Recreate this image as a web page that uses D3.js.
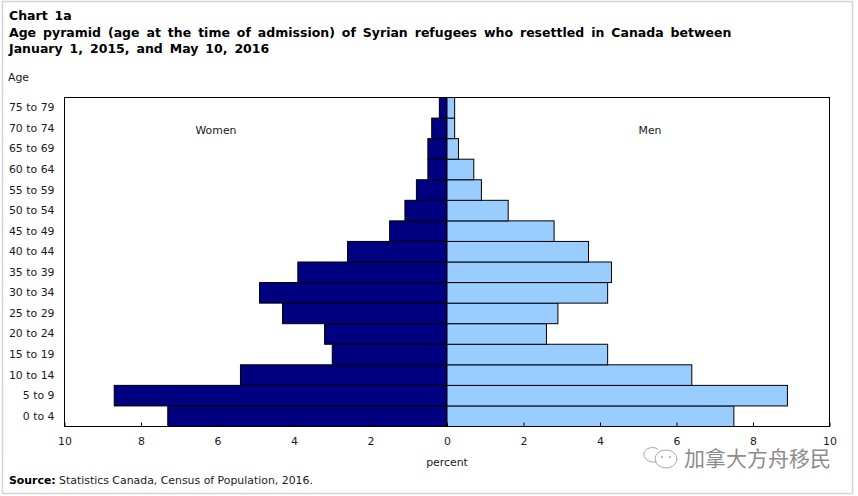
<!DOCTYPE html>
<html>
<head>
<meta charset="utf-8">
<script src="https://cdn.jsdelivr.net/npm/d3@7"></script>
<style>
  html, body { margin: 0; padding: 0; background: #fff; }
  svg { display: block; }
  text { font-family: "DejaVu Sans", Verdana, sans-serif; font-size: 10.9px; fill: #1a1a1a; }
  .title { font-size: 12.5px; font-weight: bold; fill: #000; word-spacing: 2.6px; }
  .axis path { display: none; }
  .axis line { stroke: #000; }
</style>
</head>
<body>
<div id="chart"></div>
<script>
  var ages = ['0 to 4', '5 to 9', '10 to 14', '15 to 19', '20 to 24', '25 to 29', '30 to 34', '35 to 39',
    '40 to 44', '45 to 49', '50 to 54', '55 to 59', '60 to 64', '65 to 69', '70 to 74', '75 to 79'];
  var women = [7.3, 8.7, 5.4, 3.0, 3.2, 4.3, 4.9, 3.9, 2.6, 1.5, 1.1, 0.8, 0.5, 0.5, 0.4, 0.2];
  var men = [7.5, 8.9, 6.4, 4.2, 2.6, 2.9, 4.2, 4.3, 3.7, 2.8, 1.6, 0.9, 0.7, 0.3, 0.2, 0.2];
  var xTicks = [-10, -8, -6, -4, -2, 0, 2, 4, 6, 8, 10];
  var titleLines = ['Chart 1a',
    'Age pyramid (age at the time of admission) of Syrian refugees who resettled in Canada between',
    'January 1, 2015, and May 10, 2016'];

  var width = 858, height = 496;
  var plotLeft = 64.5, plotRight = 829.5, plotTop = 97.5, plotBottom = 426.5;

  var svg = d3.select('#chart').append('svg')
    .attr('width', width)
    .attr('height', height);

  // grey picture frame
  svg.append('rect')
    .attr('x', 2.5).attr('y', 1.5)
    .attr('width', 850).attr('height', 492)
    .attr('fill', '#fff')
    .attr('stroke', '#d4d4d4')
    .attr('stroke-width', 1.5);

  var x = d3.scaleLinear().domain([-10, 10]).range([plotLeft, plotRight]);
  var y = d3.scaleBand().domain(ages).range([plotBottom, plotTop]);

  svg.selectAll('.title')
    .data(titleLines)
    .enter()
    .append('text')
    .classed('title', true)
    .attr('x', 9)
    .attr('y', function (d, i) { return 20 + i * 16.5; })
    .text(function (d) { return d; });

  function drawBars( values, sign, color ) {
    svg.append('g').selectAll('rect')
      .data(values)
      .enter()
      .append('rect')
      .attr('x', function (d) { return sign < 0 ? x(-d) : x(0); })
      .attr('y', function (d, i) { return y(ages[i]); })
      .attr('width', function (d) { return Math.abs(x(d) - x(0)); })
      .attr('height', y.bandwidth())
      .attr('fill', color)
      .attr('stroke', '#000')
      .attr('stroke-width', 1);
  }

  drawBars(women, -1, '#000080');
  drawBars(men, 1, '#99ccff');

  // plot border on top of the bars
  svg.append('rect')
    .attr('x', plotLeft).attr('y', plotTop)
    .attr('width', plotRight - plotLeft).attr('height', plotBottom - plotTop)
    .attr('fill', 'none')
    .attr('stroke', '#000')
    .attr('stroke-width', 1);

  var xAxis = svg.append('g')
    .classed('axis', true)
    .attr('transform', 'translate(0,' + plotBottom + ')')
    .call(d3.axisBottom(x)
      .tickValues(xTicks)
      .tickSizeInner(-4)
      .tickSizeOuter(0)
      .tickPadding(11)
      .tickFormat(function (d) { return Math.abs(d); }));
  xAxis.selectAll('text').attr('font-size', null).attr('font-family', null);

  var yAxis = svg.append('g')
    .classed('axis', true)
    .attr('transform', 'translate(' + plotLeft + ',0)')
    .call(d3.axisLeft(y).tickSize(0).tickPadding(10));
  yAxis.selectAll('text').attr('font-size', null).attr('font-family', null);

  svg.append('text').attr('x', 8).attr('y', 81).text('Age');
  svg.append('text').attr('x', 216).attr('y', 134).attr('text-anchor', 'middle').text('Women');
  svg.append('text').attr('x', 650).attr('y', 134).attr('text-anchor', 'middle').text('Men');
  svg.append('text').attr('x', 447).attr('y', 466).attr('text-anchor', 'middle').text('percent');

  var source = svg.append('text').attr('x', 9).attr('y', 484);
  source.append('tspan').attr('font-weight', 'bold').attr('fill', '#000').text('Source:');
  source.append('tspan').text(' Statistics Canada, Census of Population, 2016.');

  // watermark
  var mark = svg.append('g').attr('fill', 'none').attr('stroke', '#a8a8a8').attr('stroke-width', 1);
  mark.append('path').attr('d', 'M657,462 C648,463 643,458 644,453 C645,448 653,446 658,449');
  mark.append('ellipse').attr('cx', 666).attr('cy', 459).attr('rx', 11).attr('ry', 9);
  mark.append('circle').attr('cx', 662).attr('cy', 457).attr('r', 0.7);
  mark.append('circle').attr('cx', 670).attr('cy', 457).attr('r', 0.7);
  svg.append('text')
    .attr('x', 684).attr('y', 466)
    .style('font-family', '"Noto Sans CJK SC", sans-serif')
    .style('font-size', '21px')
    .style('fill', '#8c8c8c')
    .text('加拿大方舟移民');
</script>
</body>
</html>
